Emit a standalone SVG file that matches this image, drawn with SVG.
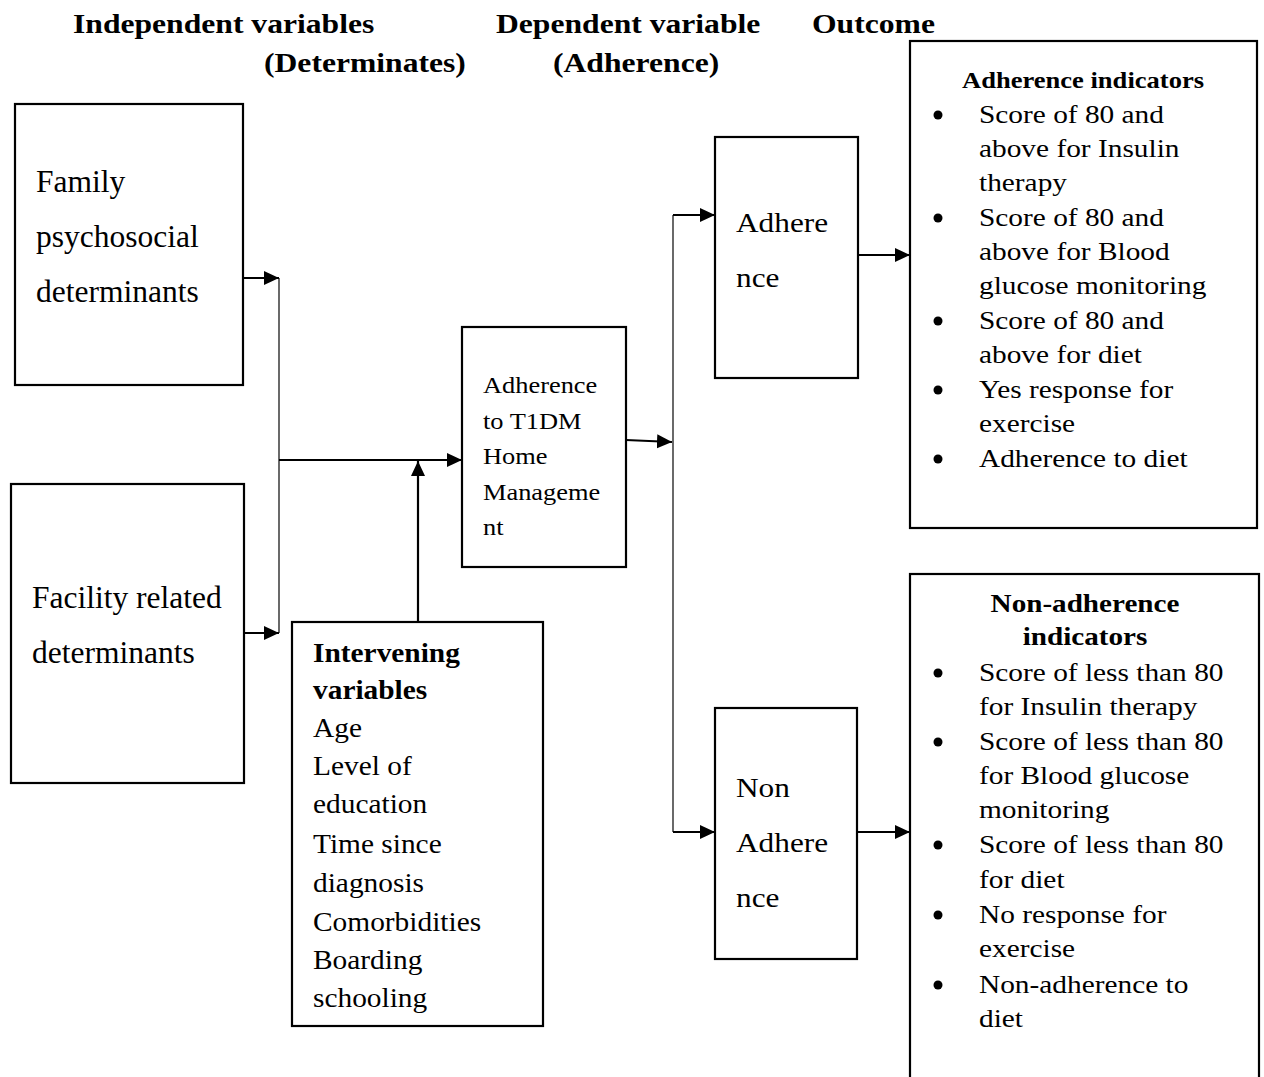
<svg xmlns="http://www.w3.org/2000/svg" width="1264" height="1077" viewBox="0 0 1264 1077">
<style>
.box{fill:#fff;stroke:#000;stroke-width:2.2}
.conn{fill:none;stroke:#000;stroke-width:2.2}
.bus{fill:none;stroke:#444;stroke-width:1.6}
text{font-family:"Liberation Serif","Times New Roman",serif;fill:#000}
.b{font-weight:bold}
.hd{font-size:27.5px;font-weight:bold}
.lf{font-size:31.5px}
.iv{font-size:28px}
.md{font-size:24px}
.ad{font-size:27.7px}
.ol{font-size:25.2px}
.bul{fill:#000}
</style>
<defs>
<marker id="ah" markerUnits="userSpaceOnUse" markerWidth="16" markerHeight="15" refX="15" refY="7" orient="auto">
<path d="M0,0 L15,7 L0,14 z" fill="#000"/>
</marker>
</defs>
<rect width="1264" height="1077" fill="#fff"/>

<g id="headers">
<g transform="translate(73,0) scale(1.15,1)"><text class="hd" x="0" y="33">Independent variables</text></g>
<g transform="translate(264,0) scale(1.15,1)"><text class="hd" x="0" y="72">(Determinates)</text></g>
<g transform="translate(496,0) scale(1.15,1)"><text class="hd" x="0" y="33">Dependent variable</text></g>
<g transform="translate(553,0) scale(1.15,1)"><text class="hd" x="0" y="72">(Adherence)</text></g>
<g transform="translate(812,0) scale(1.15,1)"><text class="hd" x="0" y="33">Outcome</text></g>
</g>

<g id="connectors">
<path class="bus" d="M279,278 V633"/>
<path class="bus" d="M673,215 V832"/>
<path class="conn" d="M243,278 H279" marker-end="url(#ah)"/>
<path class="conn" d="M244,633 H279" marker-end="url(#ah)"/>
<path class="conn" d="M279,460 H462" marker-end="url(#ah)"/>
<path class="conn" d="M418,622 V461" marker-end="url(#ah)"/>
<path class="conn" d="M626,440 L672,442" marker-end="url(#ah)"/>
<path class="conn" d="M673,215 H715" marker-end="url(#ah)"/>
<path class="conn" d="M673,832 H715" marker-end="url(#ah)"/>
<path class="conn" d="M858,255 H910" marker-end="url(#ah)"/>
<path class="conn" d="M857,832 H910" marker-end="url(#ah)"/>
</g>

<g id="family">
<rect class="box" x="15" y="104" width="228" height="281"/>
<text class="lf" x="36" y="192">Family</text>
<text class="lf" x="36" y="247">psychosocial</text>
<text class="lf" x="36" y="302">determinants</text>
</g>

<g id="facility">
<rect class="box" x="11" y="484" width="233" height="299"/>
<text class="lf" x="32" y="608">Facility related</text>
<text class="lf" x="32" y="663">determinants</text>
</g>

<g id="intervening">
<rect class="box" x="292" y="622" width="251" height="404"/>
<g transform="translate(313,0) scale(1.05,1)">
<text class="iv b" x="0" y="662">Intervening</text>
<text class="iv b" x="0" y="699">variables</text>
<text class="iv" x="0" y="737">Age</text>
<text class="iv" x="0" y="775">Level of</text>
<text class="iv" x="0" y="813">education</text>
<text class="iv" x="0" y="853">Time since</text>
<text class="iv" x="0" y="892">diagnosis</text>
<text class="iv" x="0" y="931">Comorbidities</text>
<text class="iv" x="0" y="969">Boarding</text>
<text class="iv" x="0" y="1007">schooling</text>
</g>
</g>

<g id="t1dm">
<rect class="box" x="462" y="327" width="164" height="240"/>
<g transform="translate(483,0) scale(1.1,1)">
<text class="md" x="0" y="393">Adherence</text>
<text class="md" x="0" y="429">to T1DM</text>
<text class="md" x="0" y="464">Home</text>
<text class="md" x="0" y="500">Manageme</text>
<text class="md" x="0" y="535">nt</text>
</g>
</g>

<g id="adherence">
<rect class="box" x="715" y="137" width="143" height="241"/>
<g transform="translate(736,0) scale(1.13,1)">
<text class="ad" x="0" y="232">Adhere</text>
<text class="ad" x="0" y="287">nce</text>
</g>
</g>

<g id="non-adherence">
<rect class="box" x="715" y="708" width="142" height="251"/>
<g transform="translate(736,0) scale(1.13,1)">
<text class="ad" x="0" y="797">Non</text>
<text class="ad" x="0" y="852">Adhere</text>
<text class="ad" x="0" y="907">nce</text>
</g>
</g>

<g id="adherence-indicators">
<rect class="box" x="910" y="41" width="347" height="487"/>
<g transform="translate(1083,0) scale(1.12,1)">
<text class="b" font-size="23.7" text-anchor="middle" x="0" y="88">Adherence indicators</text>
</g>
<circle class="bul" cx="938" cy="115" r="4.5"/>
<circle class="bul" cx="938" cy="218" r="4.5"/>
<circle class="bul" cx="938" cy="321" r="4.5"/>
<circle class="bul" cx="938" cy="390" r="4.5"/>
<circle class="bul" cx="938" cy="459" r="4.5"/>
<g transform="translate(979,0) scale(1.165,1)">
<text class="ol" x="0" y="123">Score of 80 and</text>
<text class="ol" x="0" y="157">above for Insulin</text>
<text class="ol" x="0" y="191">therapy</text>
<text class="ol" x="0" y="226">Score of 80 and</text>
<text class="ol" x="0" y="260">above for Blood</text>
<text class="ol" x="0" y="294">glucose monitoring</text>
<text class="ol" x="0" y="329">Score of 80 and</text>
<text class="ol" x="0" y="363">above for diet</text>
<text class="ol" x="0" y="398">Yes response for</text>
<text class="ol" x="0" y="432">exercise</text>
<text class="ol" x="0" y="467">Adherence to diet</text>
</g>
</g>

<g id="non-adherence-indicators">
<rect class="box" x="910" y="574" width="349" height="520"/>
<g transform="translate(1085,0) scale(1.18,1)">
<text class="b" font-size="24.7" text-anchor="middle" x="0" y="612">Non-adherence</text>
<text class="b" font-size="24.7" text-anchor="middle" x="0" y="645">indicators</text>
</g>
<circle class="bul" cx="938" cy="673" r="4.5"/>
<circle class="bul" cx="938" cy="742" r="4.5"/>
<circle class="bul" cx="938" cy="845" r="4.5"/>
<circle class="bul" cx="938" cy="915" r="4.5"/>
<circle class="bul" cx="938" cy="985" r="4.5"/>
<g transform="translate(979,0) scale(1.165,1)">
<text class="ol" x="0" y="681">Score of less than 80</text>
<text class="ol" x="0" y="715">for Insulin therapy</text>
<text class="ol" x="0" y="750">Score of less than 80</text>
<text class="ol" x="0" y="784">for Blood glucose</text>
<text class="ol" x="0" y="818">monitoring</text>
<text class="ol" x="0" y="853">Score of less than 80</text>
<text class="ol" x="0" y="888">for diet</text>
<text class="ol" x="0" y="923">No response for</text>
<text class="ol" x="0" y="957">exercise</text>
<text class="ol" x="0" y="993">Non-adherence to</text>
<text class="ol" x="0" y="1027">diet</text>
</g>
</g>
</svg>
